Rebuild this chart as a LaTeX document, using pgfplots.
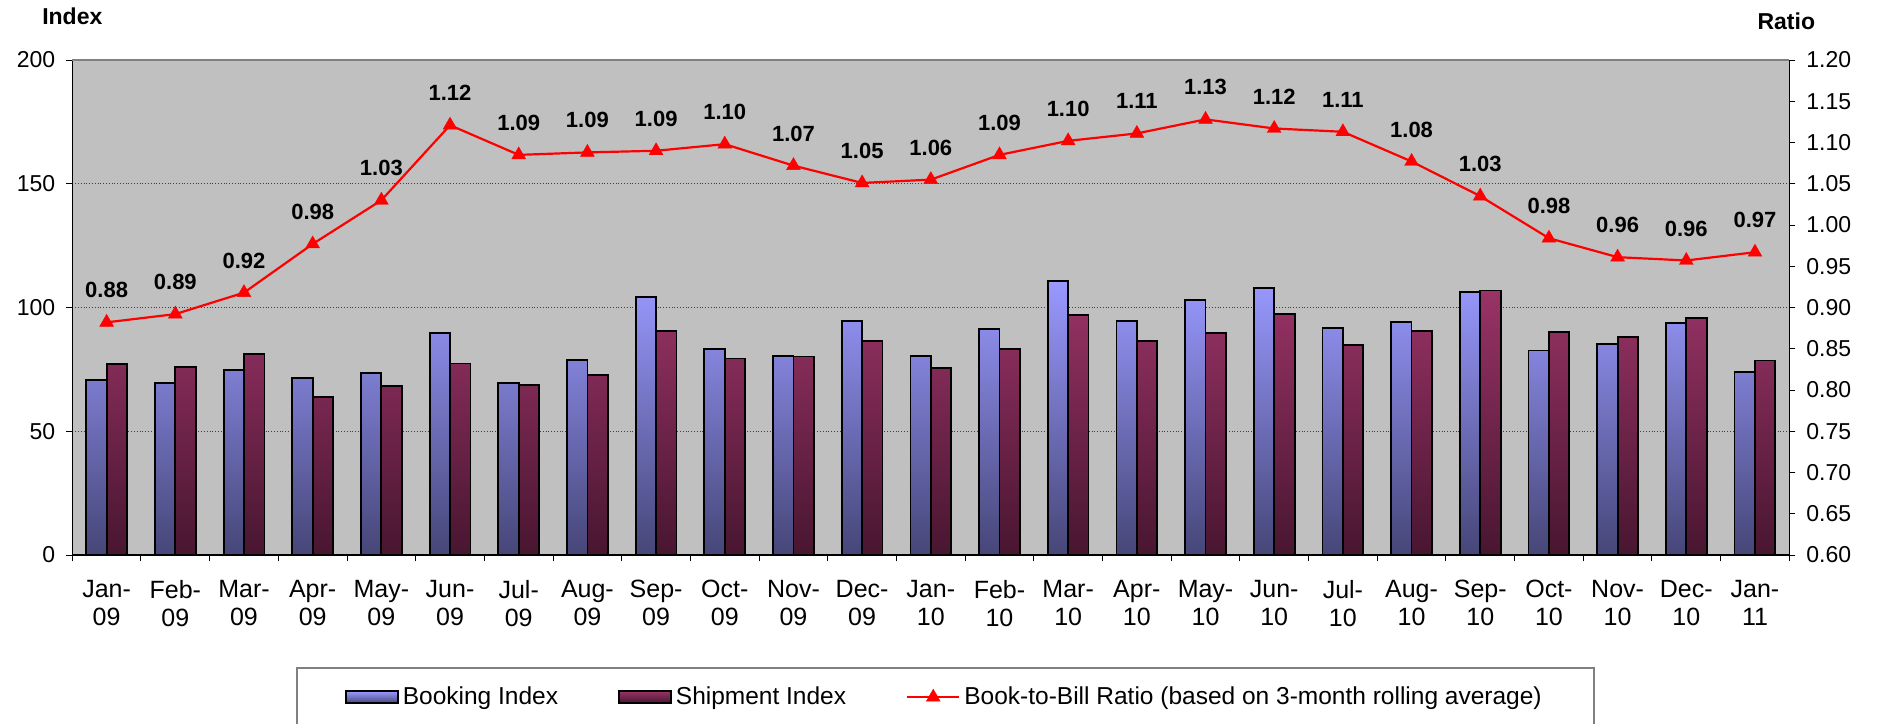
\documentclass[border=0pt]{standalone}
\usepackage{fontspec}
\setmainfont{Liberation Sans}
\usepackage{pgfplots}
\usepackage{pgfplotstable}
\pgfplotsset{compat=1.18}
\definecolor{bkTop}{RGB}{153,153,255}
\definecolor{bkBot}{RGB}{70,70,120}
\definecolor{shTop}{RGB}{153,51,102}
\definecolor{shBot}{RGB}{72,22,48}
\definecolor{bg}{RGB}{192,192,192}
\pgfplotsset{myline legend/.style={legend image code/.code={\draw[mark repeat=2, mark phase=2, ##1] plot coordinates {(0pt,0pt) (13pt,0pt) (26pt,0pt)};}}}

\pgfplotstableread{
x book ship ratio lbl
0 70.6 77.1 0.882 0.88
1 69.6 76.0 0.892 0.89
2 74.9 81.3 0.918 0.92
3 71.5 63.8 0.977 0.98
4 73.4 68.2 1.030 1.03
5 89.8 77.4 1.121 1.12
6 69.6 68.6 1.085 1.09
7 78.9 72.8 1.088 1.09
8 104.3 90.4 1.090 1.09
9 83.2 79.4 1.098 1.10
10 80.5 80.2 1.072 1.07
11 94.6 86.6 1.051 1.05
12 80.5 75.7 1.055 1.06
13 91.4 83.2 1.085 1.09
14 110.7 97.1 1.102 1.10
15 94.6 86.6 1.111 1.11
16 103.0 89.6 1.128 1.13
17 107.8 97.3 1.117 1.12
18 91.8 85.0 1.113 1.11
19 94.1 90.6 1.077 1.08
20 106.2 106.9 1.035 1.03
21 82.6 90.1 0.984 0.98
22 85.3 88.0 0.961 0.96
23 93.8 95.7 0.957 0.96
24 74.1 78.6 0.967 0.97
}\data

\begin{document}
\begin{tikzpicture}
\begin{axis}[
  name=ax,
  scale only axis,
  width=858.5pt, height=247.5pt,
  xmin=-0.5, xmax=24.5,
  ymin=0, ymax=200,
  ytick={0,50,100,150,200},
  xtick={0,...,24},
  xticklabels={{Jan-\\09},{Feb-\\09},{Mar-\\09},{Apr-\\09},{May-\\09},{Jun-\\09},{Jul-\\09},{Aug-\\09},{Sep-\\09},{Oct-\\09},{Nov-\\09},{Dec-\\09},{Jan-\\10},{Feb-\\10},{Mar-\\10},{Apr-\\10},{May-\\10},{Jun-\\10},{Jul-\\10},{Aug-\\10},{Sep-\\10},{Oct-\\10},{Nov-\\10},{Dec-\\10},{Jan-\\11}},
  minor xtick={-0.5,0.5,...,24.5},
  xtick pos=left, ytick pos=left,
  tick align=outside,
  major tick length=3pt, minor tick length=3pt,
  major x tick style={draw=none},
  minor x tick style={black, line width=0.5pt},
  major y tick style={black, line width=0.5pt},
  axis line style={draw=none},
  axis background/.style={fill=bg},
  ymajorgrids,
  major grid style={densely dotted, black!75, line width=0.4pt},
  /pgf/number format/assume math mode=true,
  yticklabel style={font=\fontsize{11.5}{13}\selectfont, xshift=-2pt},
  xticklabel style={font=\fontsize{12.5}{14}\selectfont, align=center, yshift=-6pt},
  clip=false,
]
\addplot[ybar, bar width=10.2pt, bar shift=-5.1pt, draw=black, line width=0.9pt,
  top color=bkTop, bottom color=bkBot] table[x=x, y=book]{\data};
\addplot[ybar, bar width=10.2pt, bar shift=5.1pt, draw=black, line width=0.9pt,
  top color=shTop, bottom color=shBot] table[x=x, y=ship]{\data};
\draw[black, line width=0.8pt] (rel axis cs:0,0) -- (rel axis cs:0,1);
\draw[black!50, line width=1.2pt] (rel axis cs:0,1) -- (rel axis cs:1,1);
\draw[black, line width=0.8pt] (rel axis cs:1,0) -- (rel axis cs:1,1);
\draw[black, line width=0.8pt] (rel axis cs:0,0) -- (rel axis cs:1,0);
\end{axis}

\begin{axis}[
  at={(ax.south west)}, anchor=south west,
  scale only axis,
  width=858.5pt, height=247.5pt,
  xmin=-0.5, xmax=24.5,
  ymin=0.6, ymax=1.2,
  ytick={0.6,0.65,0.7,0.75,0.8,0.85,0.9,0.95,1.0,1.05,1.1,1.15,1.2},
  yticklabel style={/pgf/number format/fixed, /pgf/number format/fixed zerofill, /pgf/number format/precision=2, font=\fontsize{11.5}{13}\selectfont, xshift=2pt},
  ytick pos=right,
  tick align=outside,
  major tick length=3pt,
  major y tick style={black, line width=0.5pt},
  hide x axis,
  axis line style={draw=none},
  /pgf/number format/assume math mode=true,
  clip=false,
  legend columns=3,
  legend style={at={(0.5085,0)}, anchor=north, yshift=-56pt,
    draw=black!50, line width=0.8pt, inner xsep=24pt, inner ysep=7.5pt,
    font=\fontsize{12.25}{14}\selectfont,
    /tikz/every even column/.append style={column sep=28pt}},
  legend cell align=left,
]
\addlegendimage{legend image code/.code={\draw[draw=black, line width=0.9pt, top color=bkTop, bottom color=bkBot] (0pt,-3pt) rectangle (26pt,3pt);}}
\addlegendentry{Booking Index}
\addlegendimage{legend image code/.code={\draw[draw=black, line width=0.9pt, top color=shTop, bottom color=shBot] (0pt,-3pt) rectangle (26pt,3pt);}}
\addlegendentry{Shipment Index}
\addplot[red, line width=1.1pt, mark=triangle*, mark size=4pt,
  mark options={fill=red, draw=red, line width=0.2pt},
  nodes near coords, point meta=explicit symbolic,
  every node near coord/.append style={font=\bfseries\fontsize{11}{13}\selectfont, text=black, anchor=center, yshift=16pt},
  myline legend
  ] table[x=x, y=ratio, meta=lbl]{\data};
\addlegendentry{Book-to-Bill Ratio (based on 3-month rolling average)}
\end{axis}

\node[font=\bfseries\fontsize{11.5}{13}\selectfont] at ([yshift=22pt]ax.north west) {Index};
\node[font=\bfseries\fontsize{11.5}{13}\selectfont] at ([xshift=-1.5pt, yshift=19.3pt]ax.north east) {Ratio};

\pgfresetboundingbox
\path[use as bounding box] ([xshift=-36.15pt, yshift=-84pt]ax.south west) rectangle ([xshift=46.85pt, yshift=30pt]ax.north east);
\end{tikzpicture}
\end{document}
